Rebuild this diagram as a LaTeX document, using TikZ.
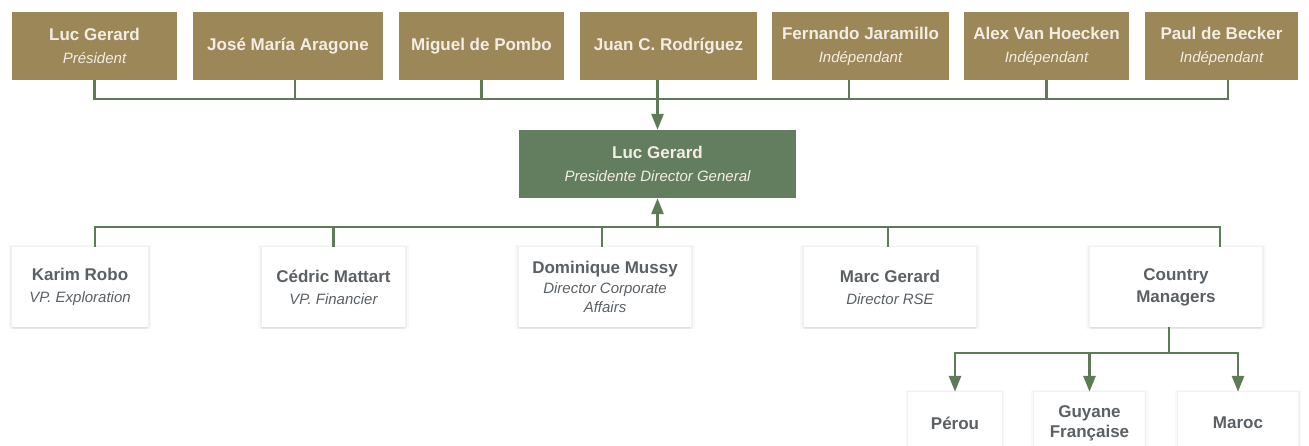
\documentclass[tikz,border=0pt]{standalone}
\usepackage{fontspec}
\setmainfont{Liberation Sans}
\usetikzlibrary{arrows.meta,positioning,shadows}

\definecolor{gold}{HTML}{9C8758}
\definecolor{cream}{HTML}{F3EEE4}
\definecolor{pine}{HTML}{627E5F}
\definecolor{wire}{HTML}{5E7B58}
\definecolor{slate}{HTML}{5B6064}

\newcommand{\jobrole}[1]{{\fontsize{15}{19}\selectfont\mdseries\itshape #1}}

\tikzset{
    board/.style={rectangle, fill=gold, text=cream, minimum height=68,
        inner sep=0pt, align=center, font=\fontsize{17}{23}\selectfont\bfseries},
    chief/.style={board, fill=pine},
    staff/.style={rectangle, fill=white, text=slate, minimum height=80,
        inner sep=0pt, align=center, font=\fontsize{17}{22}\selectfont\bfseries,
        general shadow={fill=black, opacity=0.025, shadow scale=1.05},
        general shadow={fill=black, opacity=0.03, shadow scale=1.025},
        drop shadow={fill=black, opacity=0.07, shadow xshift=0pt, shadow yshift=-2pt}},
    link/.style={draw=wire, line width=2.8pt},
    arrow/.style={link, -{Triangle[length=16pt,width=12pt]}}
}

\begin{document}
\begin{tikzpicture}[x=1pt, y=-1pt]
    \useasboundingbox (0,0) rectangle (1309,446);

    % board of directors
    \node[board, minimum width=165] (t1) at (94.5,46)   {Luc Gerard\\\jobrole{Président}};
    \node[board, minimum width=190] (t2) at (288,46)    {José María Aragone};
    \node[board, minimum width=165] (t3) at (481.5,46)  {Miguel de Pombo};
    \node[board, minimum width=177] (t4) at (668.5,46)  {Juan C. Rodríguez};
    \node[board, minimum width=177] (t5) at (860.5,46)  {Fernando Jaramillo\\\jobrole{Indépendant}};
    \node[board, minimum width=165] (t6) at (1046.5,46) {Alex Van Hoecken\\\jobrole{Indépendant}};
    \node[board, minimum width=153] (t7) at (1221.5,46) {Paul de Becker\\\jobrole{Indépendant}};

    \node[chief, minimum width=277] (ceo) at (657.5,164) {Luc Gerard\\\jobrole{Presidente Director General}};

    % direct reports
    \node[staff, minimum width=136] (karim) at (80,287)    {Karim Robo\\\jobrole{VP. Exploration}};
    \node[staff, minimum width=143] (cedric) at (333.5,287) {Cédric Mattart\\\jobrole{VP. Financier}};
    \node[staff, minimum width=172] (mussy) at (605,287)   {Dominique Mussy\\[-2pt]\jobrole{Director Corporate}\\[-3pt]\jobrole{Affairs}};
    \node[staff, minimum width=172] (marc) at (890,287)    {Marc Gerard\\\jobrole{Director RSE}};
    \node[staff, minimum width=172] (cm) at (1176,287)     {Country\\Managers};

    \node[staff, minimum width=94, minimum height=62]  (peru) at (955,423)    {Pérou};
    \node[staff, minimum width=111, minimum height=62] (guyane) at (1089.5,423) {Guyane\\[-2pt]Française};
    \node[staff, minimum width=120, minimum height=62] (maroc) at (1238,423)  {Maroc};

    \coordinate (topbus) at (657.5,99);
    \coordinate (midbus) at (657.5,227);
    \coordinate (lowbus) at (1169,353);

    \foreach \b/\dx in {t1/0, t2/7, t3/0, t4/-11, t5/-11.5, t6/0, t7/6.5}
        \draw[link] ([xshift=\dx pt]\b.south) |- (topbus);
    \draw[arrow] (topbus) -- (ceo.north);

    \foreach \b/\dx in {karim/15, cedric/0, mussy/-3, marc/-2, cm/44}
        \draw[link] ([xshift=\dx pt]\b.north) |- (midbus);
    \draw[arrow] (midbus) -- (ceo.south);

    \draw[link] ([xshift=-7pt]cm.south) -- (lowbus);
    \foreach \b in {peru, guyane, maroc}
        \draw[arrow] (lowbus) -| (\b.north);
\end{tikzpicture}
\end{document}
